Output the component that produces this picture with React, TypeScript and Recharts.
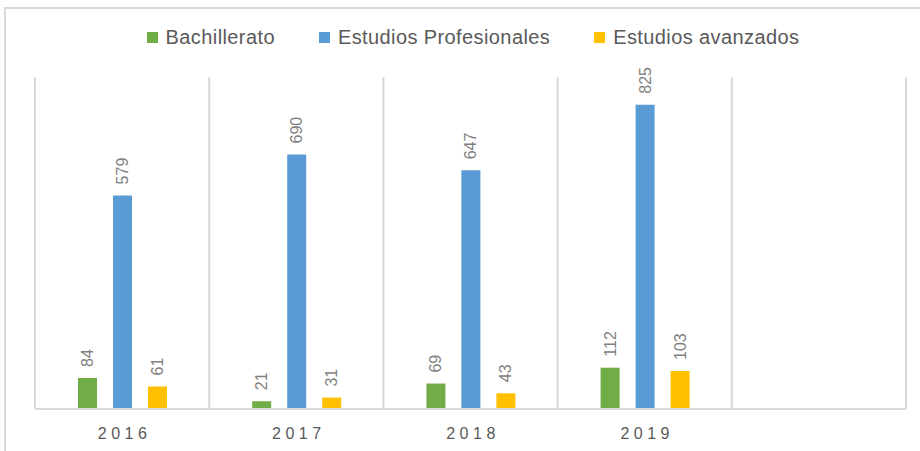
import React from "react";
import {
  BarChart,
  Bar,
  XAxis,
  YAxis,
  CartesianGrid,
  LabelList,
} from "recharts";

const years = ["2016", "2017", "2018", "2019", ""];
const bachillerato = [84, 21, 69, 112, null];
const profesionales = [579, 690, 647, 825, null];
const avanzados = [61, 31, 43, 103, null];

const seriesNames = ["Bachillerato", "Estudios Profesionales", "Estudios avanzados"];
const seriesKeys = ["bach", "prof", "avan"];
const colors = ["#70ad47", "#5b9bd5", "#ffc000"];

const rows = years.map((y, i) => ({
  year: y,
  bach: bachillerato[i],
  prof: profesionales[i],
  avan: avanzados[i],
}));

const FONT = '"Liberation Sans", Arial, sans-serif';

// etiqueta girada sobre cada barra
const RotLabel = (props: any) => {
  const { x, y, width, value } = props;
  if (value == null) return null;
  const cx = Number(x) + Number(width) / 2;
  const cy = Number(y) - 11;
  return (
    <text
      x={cx}
      y={cy}
      transform={`rotate(-90, ${cx}, ${cy})`}
      textAnchor="start"
      dominantBaseline="central"
      fill="#7f7f7f"
      fontSize={16}
      fontFamily={FONT}
    >
      {value}
    </text>
  );
};

const YearTick = (props: any) => {
  const { x, y, payload } = props;
  return (
    <text
      x={Number(x) + 2.5}
      y={Number(y) + 16}
      textAnchor="middle"
      dominantBaseline="central"
      fill="#595959"
      fontSize={16}
      letterSpacing={4.5}
      fontFamily={FONT}
    >
      {payload.value}
    </text>
  );
};

const LegendBox = () => (
  <div
    style={{
      position: "absolute",
      left: 13,
      top: 25,
      width: 920,
      display: "flex",
      justifyContent: "center",
      gap: 44,
      fontFamily: FONT,
      fontSize: 20,
      letterSpacing: 0.4,
      lineHeight: "24px",
      color: "#595959",
    }}
  >
    {seriesNames.map((n, i) => (
      <div key={n} style={{ display: "flex", alignItems: "center" }}>
        <span
          style={{
            display: "inline-block",
            width: 11,
            height: 11,
            background: colors[i],
            marginRight: 8,
          }}
        />
        {n}
      </div>
    ))}
  </div>
);

export default function App() {
  return (
    <div
      style={{
        position: "absolute",
        left: 0,
        top: 0,
        width: 920,
        height: 451,
        overflow: "hidden",
        background: "#fff",
      }}
    >
      <div
        style={{
          position: "absolute",
          left: 4,
          top: 7,
          width: 960,
          height: 480,
          border: "2px solid #d9d9d9",
        }}
      />
      <LegendBox />
      <BarChart
        width={920}
        height={451}
        data={rows}
        margin={{ top: 77, right: 14, bottom: 0, left: 35 }}
        barGap={16}
        barSize={19}
        style={{ position: "absolute", left: 0, top: 0 }}
      >
        <CartesianGrid
          horizontal={false}
          stroke="#d9d9d9"
          strokeWidth={2}
          verticalCoordinatesGenerator={({ offset }: any) =>
            years
              .map((_, i) => offset.left + (i * offset.width) / years.length)
              .concat(offset.left + offset.width)
          }
        />
        <XAxis
          dataKey="year"
          height={42}
          axisLine={{ stroke: "#d9d9d9", strokeWidth: 2 }}
          tickLine={false}
          tick={<YearTick />}
          interval={0}
        />
        <YAxis hide domain={[0, 900]} />
        {seriesKeys.map((k, i) => (
          <Bar
            key={k}
            dataKey={k}
            name={seriesNames[i]}
            fill={colors[i]}
            isAnimationActive={false}
          >
            <LabelList dataKey={k} content={<RotLabel />} />
          </Bar>
        ))}
      </BarChart>
    </div>
  );
}
